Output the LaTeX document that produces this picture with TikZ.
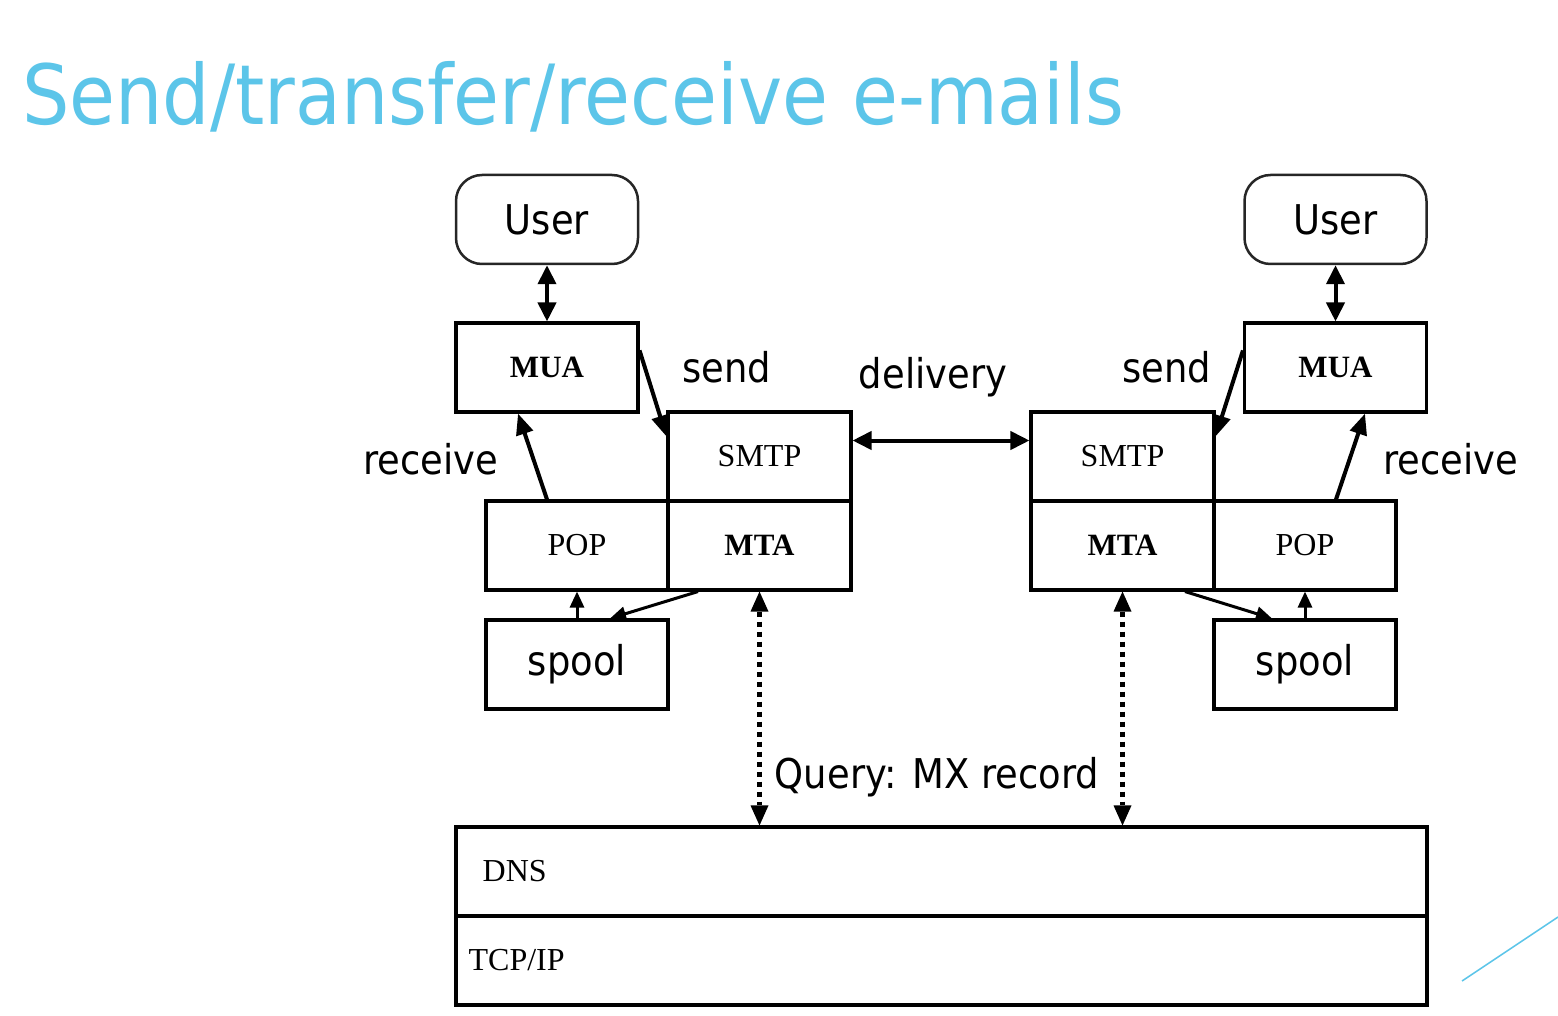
\documentclass[tikz,border=0pt]{standalone}
\usepackage{fontspec}
\usetikzlibrary{arrows.meta}
\newfontfamily\labfont[FakeStretch=0.9]{DejaVu Sans}
\newfontfamily\boxfont{Liberation Serif}
\definecolor{titleblue}{RGB}{92,197,233}
\tikzset{
  box/.style={draw=black, line width=3.1pt, minimum width=182pt, minimum height=89pt, inner sep=0pt, font=\boxfont\fontsize{32}{36}\selectfont},
  userbox/.style={draw=black!85, line width=2.5pt, rounded corners=26pt, minimum width=182pt, minimum height=89pt, inner sep=0pt, font=\labfont\fontsize{41}{48}\selectfont},
  lab/.style={inner sep=0pt, anchor=base, font=\labfont\fontsize{41}{48}\selectfont},
  conn/.style={line width=4pt, -{Triangle[length=21pt,width=17pt]}},
  dconn/.style={line width=4pt, {Triangle[length=19pt,width=18pt]}-{Triangle[length=19pt,width=18pt]}},
  thinconn/.style={line width=3pt, -{Triangle[length=16pt,width=14pt]}},
  dotconn/.style={line width=5pt, dash pattern=on 5pt off 5pt, {Triangle[length=20pt,width=18pt,line width=0pt]}-{Triangle[length=20pt,width=18pt,line width=0pt]}}
}
\begin{document}
\begin{tikzpicture}[x=1pt,y=-1pt]
\useasboundingbox[fill=white] (0,0) rectangle (1558,1016);
% title
\node[inner sep=0pt, anchor=base west, text=titleblue, font=\labfont\fontsize{83}{96}\selectfont] (title) at (22,125) {Send/transfer/receive e-mails};
% left column
\node[userbox] (luser) at (547,219.5) {User};
\node[box, font=\boxfont\bfseries\fontsize{31}{36}\selectfont] (lmua) at (547,367.5) {MUA};
\node[box, minimum width=183pt] (lsmtp) at (759.5,456.5) {SMTP};
\node[box, minimum width=183pt, font=\boxfont\bfseries\fontsize{31}{36}\selectfont] (lmta) at (759.5,545.5) {MTA};
\node[box] (lpop) at (577,545.5) {POP};
\node[box, font=\labfont\fontsize{41}{48}\selectfont] (lspool) at (577,664.5) {spool};
% right column
\node[userbox] (ruser) at (1335.5,219.5) {User};
\node[box, font=\boxfont\bfseries\fontsize{31}{36}\selectfont] (rmua) at (1335.5,367.5) {MUA};
\node[box, minimum width=183pt] (rsmtp) at (1122.5,456.5) {SMTP};
\node[box, minimum width=183pt, font=\boxfont\bfseries\fontsize{31}{36}\selectfont] (rmta) at (1122.5,545.5) {MTA};
\node[box] (rpop) at (1305,545.5) {POP};
\node[box, font=\labfont\fontsize{41}{48}\selectfont] (rspool) at (1305,664.5) {spool};
% DNS / TCP-IP
\node[box, minimum width=971pt, label={[inner sep=0pt, anchor=west, xshift=28pt, font=\boxfont\fontsize{32}{36}\selectfont]west:DNS}] (dns) at (941.5,871.5) {};
\node[box, minimum width=971pt, label={[inner sep=0pt, anchor=west, xshift=14pt, font=\boxfont\fontsize{32}{36}\selectfont]west:TCP/IP}] (tcp) at (941.5,960.5) {};
% labels
\node[lab] (lsend) at (727,382) {send};
\node[lab] (deliv) at (933,388) {delivery};
\node[lab] (rsend) at (1167,382) {send};
\node[lab] (lrecv) at (431,474) {receive};
\node[lab] (rrecv) at (1451,474) {receive};
\node[lab] (query) at (937,788) {Query: MX record};
% connectors
\draw[dconn] (luser.south) -- (lmua.north);
\draw[dconn] (ruser.south) -- (rmua.north);
\draw[conn] ([yshift=-29pt]lmua.north east) -- ([yshift=-26pt]lsmtp.north west);
\draw[conn] ([yshift=-29pt]rmua.north west) -- ([yshift=-26pt]rsmtp.north east);
\draw[conn] ([xshift=-30pt]lpop.north) -- ([xshift=-29pt]lmua.south);
\draw[conn] ([xshift=31pt]rpop.north) -- ([xshift=29.5pt]rmua.south);
\draw[dconn] ([yshift=16pt]lsmtp.east) -- ([yshift=16pt]rsmtp.west);
\draw[thinconn] (lspool.north) -- (lpop.south);
\draw[thinconn] (rspool.north) -- (rpop.south);
\draw[thinconn] ([xshift=-61.5pt]lmta.south) -- ([xshift=33pt]lspool.north);
\draw[thinconn] ([xshift=62.5pt]rmta.south) -- ([xshift=-33pt]rspool.north);
\draw[dotconn] (lmta.south) -- (lmta.south |- dns.north);
\draw[dotconn] (rmta.south) -- (rmta.south |- dns.north);
% decorative corner line
\draw[titleblue, line width=1.5pt] (1462,981) -- (1558,917);
\end{tikzpicture}
\end{document}
